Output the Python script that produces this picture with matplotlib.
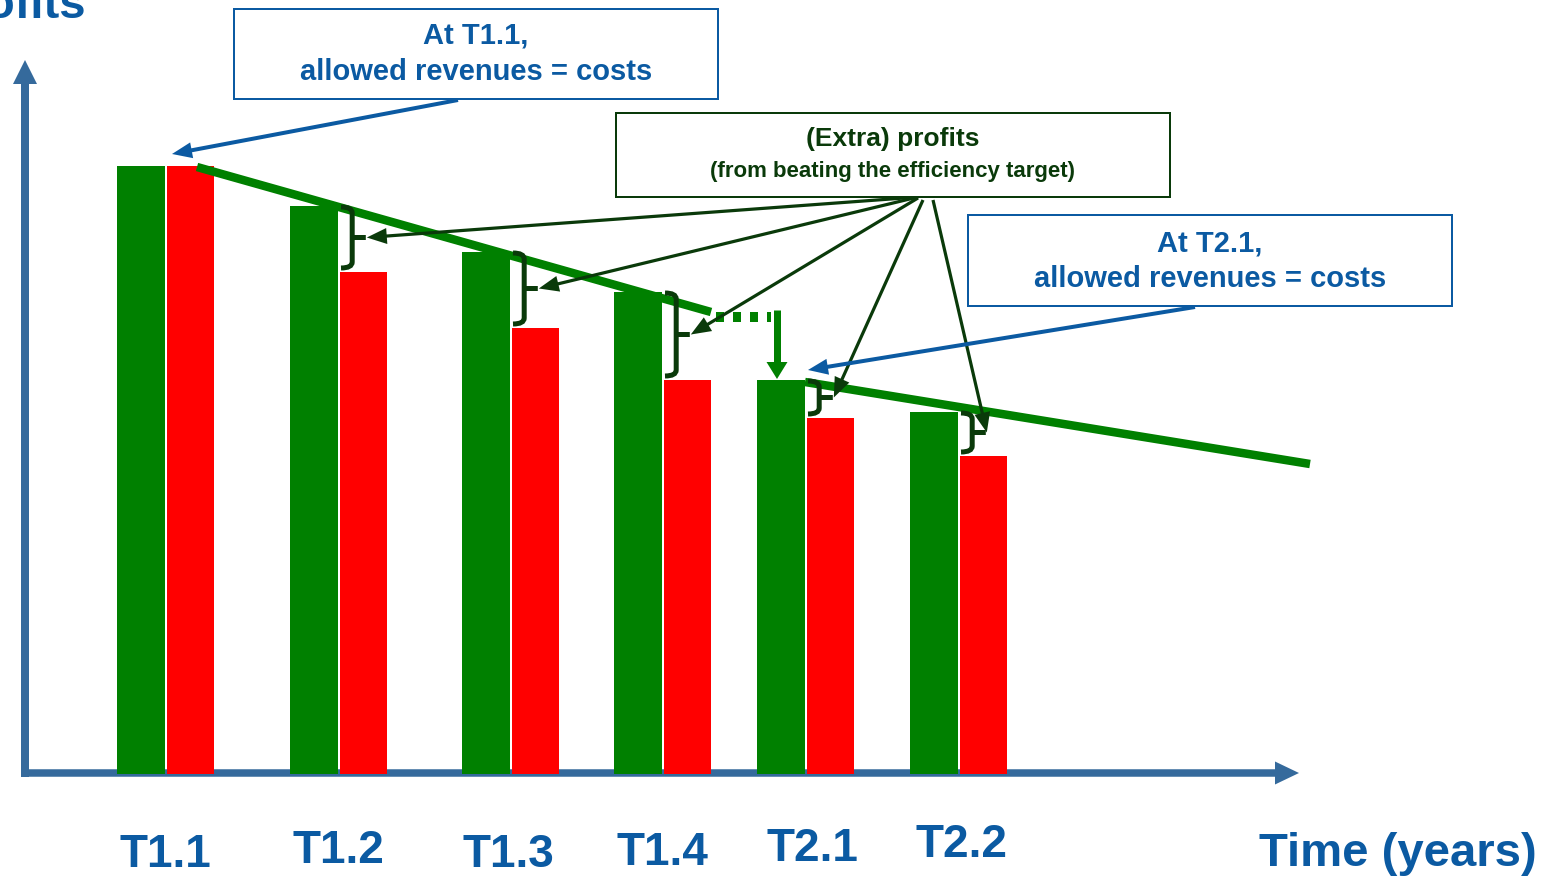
import matplotlib.pyplot as plt
from matplotlib.patches import Rectangle, PathPatch, Polygon
from matplotlib.path import Path
import numpy as np

# periods and bar heights (allowed revenues in green, actual costs in red)
periods = ['T1.1', 'T1.2', 'T1.3', 'T1.4', 'T2.1', 'T2.2']
allowed = [608, 568, 522, 482, 394, 362]
costs = [608, 502, 446, 394, 356, 318]

# layout (pixel units, y measured up from the time axis)
group_x = [165, 338, 510, 662, 805, 958]
label_dx = [0, 0, -2, 0, 7, 4]
label_dy = [0, 4, 0, 2, 6, 10]
W, H = 1545, 877
BASE = 772
BAR_W = 48
PX = 72 / 100  # points per pixel

BLUE = '#0B5AA2'
AXIS = '#356A9C'
GREEN = '#008000'
DKGREEN = '#0A3A0A'
RED = '#FF0000'

plt.rcParams['font.family'] = ['Liberation Sans', 'DejaVu Sans']

fig = plt.figure(figsize=(W / 100, H / 100), dpi=100)
ax = fig.add_axes([0, 0, 1, 1])
ax.set_xlim(0, W)
ax.set_ylim(BASE - H, BASE)
ax.axis('off')


def Y(py):
    return BASE - py


def arrow(x0, y0, x1, y1, color, lw, head_len, head_w, z=5):
    # straight shaft plus a filled triangular head, all in pixel units
    p0 = np.array([x0, y0], float)
    p1 = np.array([x1, y1], float)
    d = (p1 - p0) / np.hypot(*(p1 - p0))
    n = np.array([-d[1], d[0]])
    base = p1 - d * head_len
    ax.plot([p0[0], base[0] + d[0]], [p0[1], base[1] + d[1]], color=color, lw=lw * PX,
            solid_capstyle='butt', zorder=z)
    ax.add_patch(Polygon([p1, base + n * head_w / 2, base - n * head_w / 2], closed=True,
                         fc=color, ec='none', zorder=z))


# axes with arrowheads
arrow(25, Y(777), 25, Y(60), AXIS, 8, 24, 24, z=1)
arrow(21, Y(773), 1299, Y(773), AXIS, 7.5, 24, 23, z=1)

# bars
for i, x in enumerate(group_x):
    ax.bar(x - BAR_W / 2, allowed[i], width=BAR_W, bottom=-2, color=GREEN, zorder=2)
    ax.bar(x + BAR_W / 2 + 1, costs[i], width=BAR_W - 1, bottom=-2, color=RED, zorder=2)

# efficiency target paths
ax.plot([197, 711], [Y(167), Y(312)], color=GREEN, lw=8.5 * PX, solid_capstyle='butt', zorder=3)
ax.plot([716, 771], [Y(317), Y(317)], color=GREEN, lw=10 * PX, ls=(0, (0.8, 0.9)),
        solid_capstyle='butt', zorder=3)
arrow(777, Y(310), 777, Y(379), GREEN, 7, 17, 21, z=3)
ax.plot([805, 1310], [Y(382), Y(464)], color=GREEN, lw=8.5 * PX, solid_capstyle='butt', zorder=3)


# braces marking the extra profit in each period
def brace(x, top, bot, w=16):
    xs = x + w * 0.7
    r = 6
    mid = (top + bot) / 2
    tip = x + w * 1.55
    verts = [(x, top), (xs, top), (xs, top - r), (xs, bot + r), (xs, bot), (x, bot),
             (xs, mid), (tip, mid)]
    codes = [Path.MOVETO, Path.CURVE3, Path.CURVE3, Path.LINETO, Path.CURVE3, Path.CURVE3,
             Path.MOVETO, Path.LINETO]
    ax.add_patch(PathPatch(Path(verts, codes), fill=False, ec=DKGREEN, lw=5 * PX, zorder=4))
    return tip, mid


tips = []
for i in range(1, len(periods)):
    tips.append(brace(group_x[i] + 3, allowed[i] - 3, costs[i] + 2))

sources = [(918, Y(197)), (918, Y(197)), (918, Y(198)), (923, Y(200)), (933, Y(200))]
for (sx, sy), (tx, ty) in zip(sources, tips):
    arrow(sx, sy, tx + 1, ty, DKGREEN, 3.2, 20, 16)

# blue callouts
arrow(458, Y(100), 172, Y(154), BLUE, 4, 20, 16)
arrow(1195, Y(307), 808, Y(370), BLUE, 4, 20, 16)


def box(x0, y0, x1, y1, ec):
    ax.add_patch(Rectangle((x0, Y(y1)), x1 - x0, y1 - y0, fill=True, fc='white', ec=ec,
                           lw=2 * PX, zorder=6))


box(234, 9, 718, 99, BLUE)
ax.text(476, Y(36), 'At T1.1,', color=BLUE, fontsize=21, fontweight='bold', ha='center', va='center', zorder=7)
ax.text(476, Y(72), 'allowed revenues = costs', color=BLUE, fontsize=21, fontweight='bold',
        ha='center', va='center', zorder=7)

box(968, 215, 1452, 306, BLUE)
ax.text(1210, Y(243), 'At T2.1,', color=BLUE, fontsize=21, fontweight='bold', ha='center', va='center', zorder=7)
ax.text(1210, Y(279), 'allowed revenues = costs', color=BLUE, fontsize=21, fontweight='bold',
        ha='center', va='center', zorder=7)

box(616, 113, 1170, 197, DKGREEN)
ax.text(893, Y(139), '(Extra) profits', color=DKGREEN, fontsize=19, fontweight='bold',
        ha='center', va='center', zorder=7)
ax.text(893, Y(172), '(from beating the efficiency target)', color=DKGREEN, fontsize=16, fontweight='bold',
        ha='center', va='center', zorder=7)

# axis labels
for x, lab, dx, dy in zip(group_x, periods, label_dx, label_dy):
    ax.text(x + dx, Y(867 - dy), lab, color=BLUE, fontsize=33, fontweight='bold', ha='center', va='baseline')
ax.text(1537, Y(866), 'Time (years)', color=BLUE, fontsize=34, fontweight='bold', ha='right', va='baseline')
ax.text(86, Y(18), 'Profits', color=BLUE, fontsize=34, fontweight='bold', ha='right', va='baseline')

fig.savefig('out.png', dpi=100)
